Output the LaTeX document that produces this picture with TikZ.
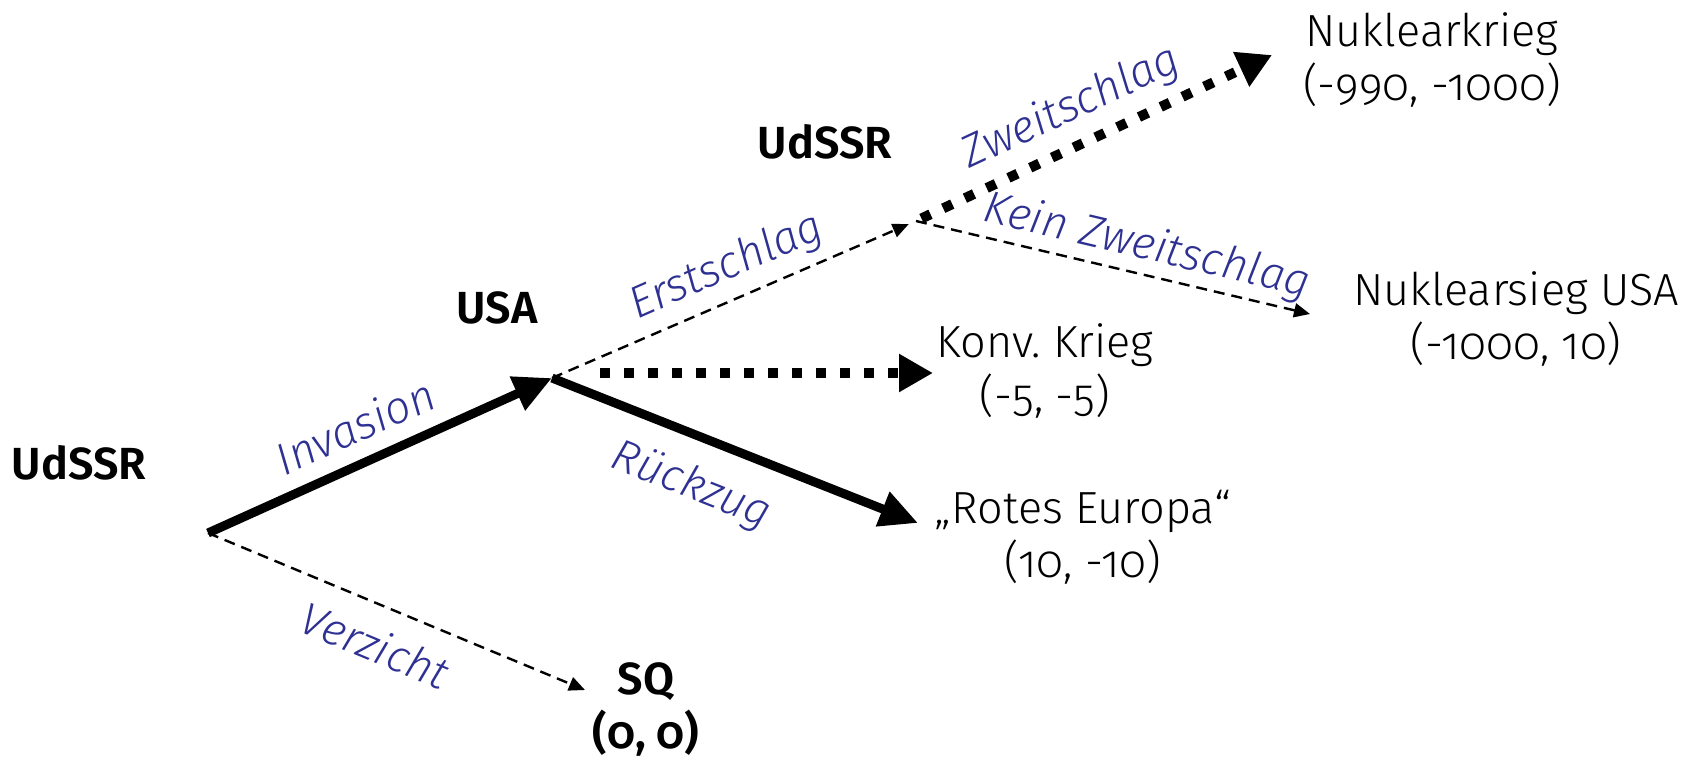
\documentclass[tikz,border=0pt]{standalone}
\usepackage{fontspec}
\setmainfont{Fira Sans}[Numbers=OldStyle, UprightFont={* Light}, ItalicFont={* Light Italic}, BoldFont={* SemiBold}]
\usetikzlibrary{arrows.meta,calc}
\definecolor{lblue}{RGB}{46,49,146}
\tikzset{
  every node/.style={inner sep=0pt, font=\fontsize{22.5}{27}\selectfont},
  player/.style={font=\fontsize{22.5}{27}\selectfont\bfseries},
  outcome/.style={align=center, anchor=base},
  lbl/.style={text=lblue, font=\fontsize{22.5}{27}\selectfont\itshape},
  thickarrow/.style={line width=4.5pt, -{Triangle[length=19pt,width=17.5pt]}},
  dotarrow/.style={line width=5pt, dash pattern=on 5pt off 7pt, -{Triangle[length=17pt,width=18pt]}},
  dasharrow/.style={line width=1.2pt, dash pattern=on 5.5pt off 3.5pt, -{Triangle[length=8pt,width=7pt]}},
}
\begin{document}
\begin{tikzpicture}[x=0.5pt, y=-0.5pt]
\useasboundingbox (0,0) rectangle (1705,762);
% decision points
\coordinate (root) at (208,533);
\coordinate (usa) at (552,378);
\coordinate (udssr2) at (916,221);
% arrow tips
\coordinate (tipNK) at (1272,55);
\coordinate (tipNS) at (1310,314);
\coordinate (tipKK) at (933,373);
\coordinate (tipRE) at (918,523);
\coordinate (tipSQ) at (585,690);
% players
\node[player] (p0) at (79,463) {UdSSR};
\node[player] (p1) at (497,308) {USA};
\node[player] (p2) at (825,142) {UdSSR};
% outcomes (anchor = baseline of the last line)
\node[outcome] (nk) at (1432,100) {Nuklearkrieg\\(-990, -1000)};
\node[outcome] (ns) at (1516,359) {Nuklearsieg USA\\(-1000, 10)};
\node[outcome] (kk) at (1045,411) {Konv.\ Krieg\\(-5, -5)};
\node[outcome] (re) at (1083,577) {„Rotes Europa“\\(10, -10)};
\node[outcome, player] (sq) at (646,748) {SQ\\(0, 0)};
% connectors
\draw[thickarrow] (root) -- (usa);
\draw[dasharrow] (root) -- (tipSQ);
\draw[thickarrow] (usa) -- (tipRE);
\draw[dotarrow, shorten <=24pt] (usa |- tipKK) -- (tipKK);
\draw[dasharrow, shorten >=4pt] (usa) -- (udssr2);
\draw[dotarrow, shorten <=3pt] (udssr2) -- (tipNK);
\draw[dasharrow] (udssr2) -- (tipNS);
% labels
\node[lbl, rotate=24.3] (lInv) at (355,426) {Invasion};
\node[lbl, rotate=23.7] (lErst) at (727,267) {Erstschlag};
\node[lbl, rotate=25] (lZw) at (1071,108) {Zweitschlag};
\node[lbl, rotate=-13.3] (lKein) at (1147,247) {Kein Zweitschlag};
\node[lbl, rotate=-21.6] (lRueck) at (691,486) {Rückzug};
\node[lbl, rotate=-22.6] (lVerz) at (375,645) {Verzicht};
\end{tikzpicture}
\end{document}
